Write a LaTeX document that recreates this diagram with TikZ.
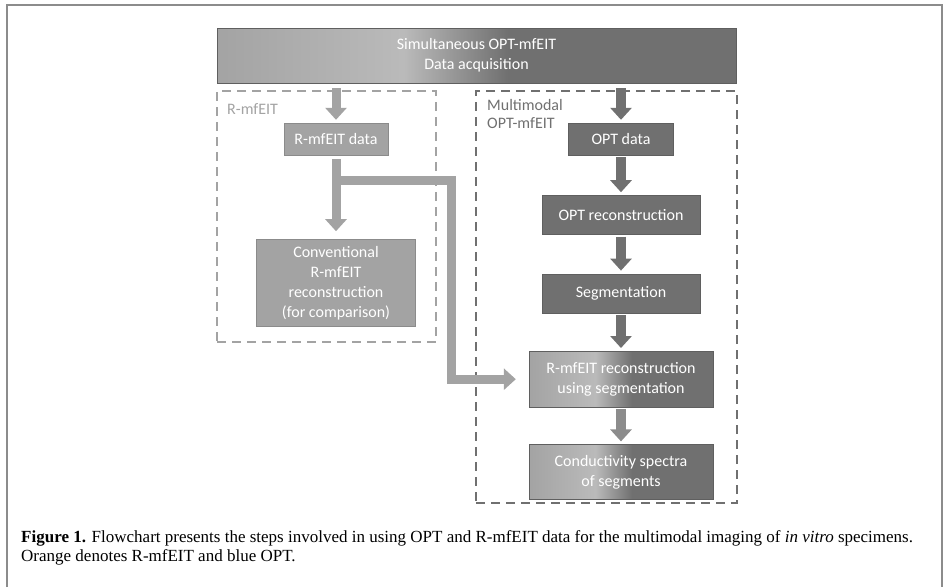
\documentclass[tikz,border=0pt]{standalone}
\usepackage{fontspec}
\setmainfont{Liberation Serif}
\newfontfamily\boxfont{Carlito}
\usetikzlibrary{arrows.meta,positioning}

\definecolor{orgr}{gray}{0.64}
\definecolor{orlt}{gray}{0.73}
\definecolor{blgr}{gray}{0.44}
\definecolor{midgr}{gray}{0.55}
\definecolor{framegr}{gray}{0.55}

% orange part on the left, blue part on the right
\pgfdeclarehorizontalshading{mixfill}{100bp}{color(0bp)=(orgr); color(25bp)=(orgr); color(43bp)=(orlt); color(53bp)=(blgr); color(75bp)=(blgr); color(100bp)=(blgr)}

\begin{document}
\begin{tikzpicture}[x=1pt, y=-1pt,
  box/.style={draw=orgr!85!black, fill=orgr, text=white, align=center, inner sep=0pt, font=\boxfont\fontsize{16}{20}\selectfont},
  optbox/.style={box, draw=blgr!85!black, fill=blgr},
  mixbox/.style={box, draw=blgr!85!black, shading=mixfill},
  group/.style={dash pattern=on 9pt off 6pt, line width=2.2pt, minimum width=#1},
  note/.style={align=left, inner sep=0pt, font=\boxfont\fontsize{16}{18}\selectfont},
  lightarr/.style={-{Triangle[width=21pt,length=12pt]}, line width=9pt, orgr},
  darkarr/.style={-{Triangle[width=21pt,length=12pt]}, line width=10pt, blgr, shorten <=2pt, shorten >=3pt}
]
\useasboundingbox (0,0) rectangle (946,587);
\draw[framegr, line width=2pt] (7,587) -- (7,5) -- (942,5) -- (942,587);

\node[mixbox, minimum width=519pt, minimum height=55pt] (acq) at (476.5,55.5) {Simultaneous OPT-mfEIT\\Data acquisition};

% dashed groups
\node[group=219pt, draw=orgr, minimum height=251pt] (rgroup) at (326.5,216.5) {};
\node[group=261pt, draw=blgr, minimum height=412pt] (mgroup) at (606.5,297) {};
\node[note, text=orgr, anchor=west] (rlabel) at (227,109) {R-mfEIT};
\node[note, text=blgr, anchor=north west] (mlabel) at (487,99) {Multimodal\\OPT-mfEIT};

% left column
\node[box, minimum width=104pt, minimum height=32pt] (rdata) at (336,139) {R-mfEIT data};
\node[box, minimum width=159pt, minimum height=87pt, below=84pt of rdata] (conv) {Conventional\\R-mfEIT\\reconstruction\\(for comparison)};

% right column
\node[optbox, minimum width=105pt, minimum height=32pt] (optdata) at (621,139) {OPT data};
\node[optbox, minimum width=158pt, minimum height=39pt, below=40pt of optdata] (optrec) {OPT reconstruction};
\node[optbox, minimum width=158pt, minimum height=39pt, below=39pt of optrec] (seg) {Segmentation};
\node[mixbox, minimum width=184pt, minimum height=56pt, below=38pt of seg] (segrec) {R-mfEIT reconstruction\\using segmentation};
\node[mixbox, minimum width=184pt, minimum height=55pt, below=37pt of segrec] (spectra) {Conductivity spectra\\of segments};

\draw[lightarr, shorten <=5pt, shorten >=3pt] (rdata.north |- acq.south) -- (rdata.north);
\draw[darkarr, shorten <=5pt] (optdata.north |- acq.south) -- (optdata.north);
\draw[lightarr, shorten <=4pt, shorten >=8pt] (rdata) -- (conv);
\draw[lightarr] ([yshift=-25pt]rdata.south) -| ([xshift=-77pt]segrec.west) -- ([xshift=-13pt]segrec.west);
\draw[darkarr] (optdata) -- (optrec);
\draw[darkarr] (optrec) -- (seg);
\draw[darkarr] (seg) -- (segrec);
\draw[darkarr, midgr] (segrec) -- (spectra);

\node[anchor=north west, align=left, inner sep=0pt, font=\fontsize{17}{19}\selectfont] (caption) at (21,530) {\textbf{Figure 1.} Flowchart presents the steps involved in using OPT and R-mfEIT data for the multimodal imaging of \textit{in vitro} specimens.\\Orange denotes R-mfEIT and blue OPT.};
\end{tikzpicture}
\end{document}
